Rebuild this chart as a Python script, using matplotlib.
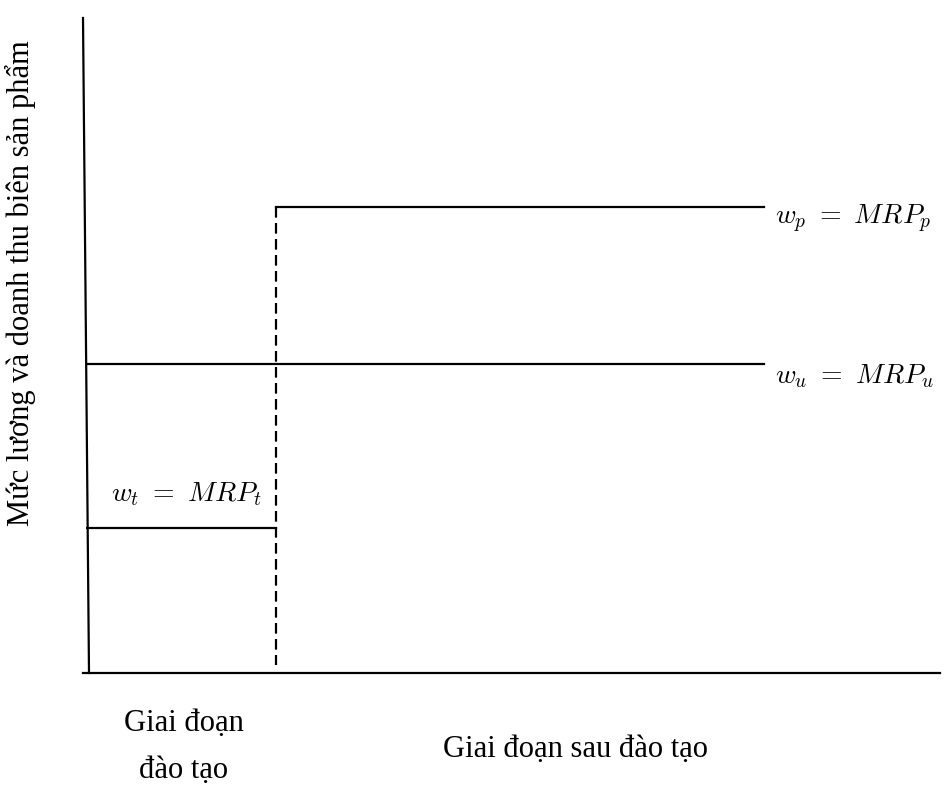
import matplotlib
matplotlib.use("Agg")
import matplotlib.pyplot as plt

plt.rcParams['font.family'] = ['Liberation Serif', 'DejaVu Serif']
plt.rcParams['mathtext.fontset'] = 'cm'

# levels (arbitrary units)
t_train = 1.9      # end of training period
t_end = 6.78       # where wage lines stop
w_t = 1.45
w_u = 3.09
w_p = 4.66
labels = [r'$w_t\ =\ MRP_t$', r'$w_u\ =\ MRP_u$', r'$w_p\ =\ MRP_p$']
ylab = 'Mức lương và doanh thu biên sản phẩm'
xlab1 = 'Giai đoạn\nđào tạo'
xlab2 = 'Giai đoạn sau đào tạo'

W, H = 945, 787
fig = plt.figure(figsize=(W / 100, H / 100), dpi=100)
x0, y0 = 86, 673
ax = fig.add_axes([x0 / W, (H - y0) / H, (940 - x0) / W, (y0 - 18) / H])
ax.set_xlim(0, (940 - x0) / 100)
ax.set_ylim(0, (y0 - 18) / 100)
ax.axis('off')

lw = 1.6
# axes (y axis slightly leaning like the hand drawing)
ax.plot([-0.03, 0.03], [6.55, 0], color='black', lw=lw, clip_on=False)
ax.plot([-0.03, 8.54], [0, 0], color='black', lw=lw, clip_on=False)

# wage lines
ax.plot([0, t_train], [w_t, w_t], color='black', lw=lw)
ax.plot([0, t_end], [w_u, w_u], color='black', lw=lw)
ax.plot([t_train, t_end], [w_p, w_p], color='black', lw=lw)
ax.plot([t_train, t_train], [w_p, 0.08], color='black', lw=lw,
        dashes=(4.8, 2.4))

fs_m = 20
fs = 22
ax.text(t_train - 0.14, w_t + 0.2, labels[0], fontsize=fs_m, ha='right', va='bottom')
ax.text(t_end + 0.11, w_u - 0.12, labels[1], fontsize=fs_m, ha='left', va='center')
ax.text(t_end + 0.11, w_p - 0.12, labels[2], fontsize=fs_m, ha='left', va='center')

ax.text(t_train / 2 + 0.03, -0.74, xlab1, fontsize=fs, ha='center', va='center',
        linespacing=1.85)
ax.text(4.9, -0.76, xlab2, fontsize=fs, ha='center', va='center')

fig.text(20 / W, 1 - 283 / H, ylab, fontsize=fs, rotation=90,
         ha='center', va='center')

fig.savefig('out.png', dpi=100)
